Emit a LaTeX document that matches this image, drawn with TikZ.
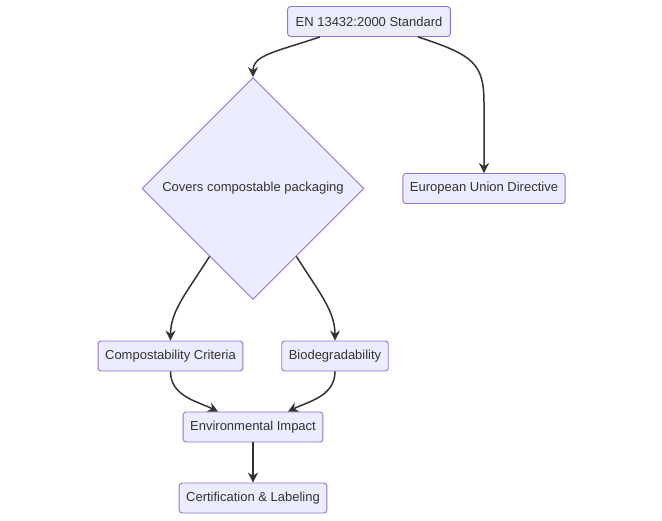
\documentclass[tikz,border=0pt]{standalone}
\usepackage{fontspec}
\setmainfont{Liberation Sans}
\usetikzlibrary{shapes.geometric,arrows.meta,calc}
\definecolor{nodefill}{HTML}{ECECFF}
\definecolor{nodeline}{HTML}{9370DB}
\definecolor{txt}{HTML}{333333}
\begin{document}
\begin{tikzpicture}[x=1pt,y=-1pt,
  box/.style={draw=nodeline,fill=nodefill,line width=0.9pt,rounded corners=3pt,
    minimum height=30pt,inner xsep=7pt,inner ysep=2pt,text=txt,
    font=\fontsize{13}{15}\selectfont},
  decision/.style={diamond,aspect=1,draw=nodeline,fill=nodefill,line width=0.9pt,
    minimum width=222pt,minimum height=222pt,inner sep=2pt,text=txt,
    font=\fontsize{13}{15}\selectfont},
  link/.style={draw=txt,line width=1.5pt,-{Stealth[length=10pt,width=10pt]}}]
\useasboundingbox[fill=white] (0,0) rectangle (662,520);
\node[box,inner xsep=8pt] (en) at (369,21.5) {EN 13432:2000 Standard};
\node[decision] (dia) at (253,188.5) {Covers compostable packaging};
\node[box] (eu) at (484,188.5) {European Union Directive};
\node[box] (cc) at (170.5,356) {Compostability Criteria};
\node[box] (bio) at (335,356) {Biodegradability};
\node[box] (env) at (253,427) {Environmental Impact};
\node[box] (cert) at (253,498) {Certification \& Labeling};
\draw[link] ([xshift=-49pt]en.south) .. controls +(-45,15) and +(0,-22) .. (dia.north);
\draw[link] ([xshift=49pt]en.south) .. controls +(55,18) and +(0,-40) .. ($(eu.north)+(0,-70)$) -- (eu.north);
\draw[link] ($(dia.west)!0.61!(dia.south)$) .. controls +(-22,35) and +(0,-30) .. (cc.north);
\draw[link] ($(dia.east)!0.61!(dia.south)$) .. controls +(22,35) and +(0,-30) .. (bio.north);
\draw[link] (cc.south) .. controls +(0,25) and +(-20,-10) .. ([xshift=-35pt]env.north);
\draw[link] (bio.south) .. controls +(0,25) and +(20,-10) .. ([xshift=35pt]env.north);
\draw[link] (env.south) -- (cert.north);
\end{tikzpicture}
\end{document}
